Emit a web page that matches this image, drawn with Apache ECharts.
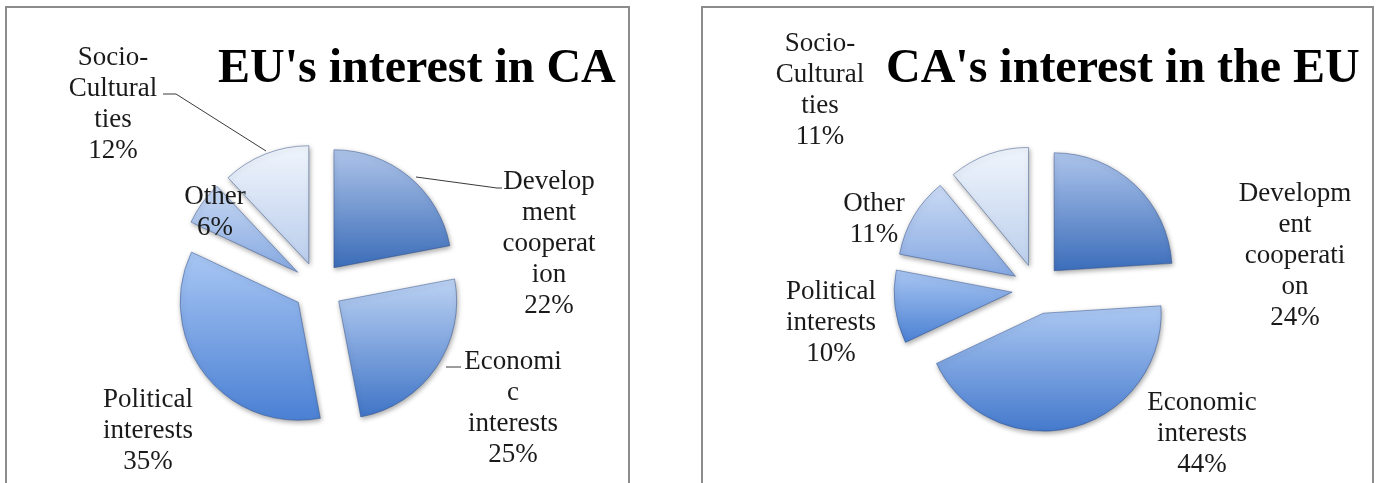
<!DOCTYPE html>
<html>
<head>
<meta charset="utf-8">
<script src="https://cdn.jsdelivr.net/npm/echarts@6/dist/echarts.min.js"></script>
<style>
html,body{margin:0;padding:0;background:#fff;}
#c{width:1379px;height:483px;}
</style>
</head>
<body>
<div id="c"></div>
<script>
// ---- data ----
const categories = ['Development cooperation', 'Economic interests', 'Political interests', 'Other', 'Socio-Cultural ties'];
const euInterestInCA = [22, 25, 35, 6, 12];
const caInterestInEU = [24, 44, 10, 11, 11];
const chartTitles = ["EU's interest in CA", "CA's interest in the EU"];
// label text as wrapped in the original
const wrapLeft = ['Develop\nment\ncooperat\nion', 'Economi\nc\ninterests', 'Political\ninterests', 'Other', 'Socio-\nCultural\nties'];
const wrapRight = ['Developm\nent\ncooperati\non', 'Economic\ninterests', 'Political\ninterests', 'Other', 'Socio-\nCultural\nties'];

// ---- styles / layout ----
const gradLeft = [
  ['#aec4e9', '#3a6cb8'],
  ['#bcd2f3', '#3f74c6'],
  ['#a9c7f4', '#4a80d3'],
  ['#c7d8f2', '#86a9e2'],
  ['#f0f5fc', '#b9cdec']
];
const gradRight = [
  ['#adc4eb', '#3b6dba'],
  ['#adc9f3', '#4479cc'],
  ['#a9c6f2', '#4a80d3'],
  ['#cbdbf4', '#85a8e2'],
  ['#f0f5fc', '#bccfec']
];
const labelPosLeft = [[549, 244], [513, 408], [148, 431], [215, 212], [113, 104]];
const labelPosRight = [[1295, 256], [1202, 434], [831, 323], [874, 219], [820, 90]];
const leaderLeft = [
  [[416, 177], [497, 188], [502, 188]],
  [[446, 367], [455, 367], [461, 367]],
  null, null,
  [[266, 151], [176, 94], [163, 94]]
];
const PIE_R = 118;
const centerLeft = [318, 287];
const centerRight = [1037, 289];

function slicesSeries(values, grads, center) {
  return {
    type: 'pie',
    center: center,
    radius: PIE_R,
    startAngle: 90,
    clockwise: true,
    selectedMode: 'multiple',
    selectedOffset: 25,
    avoidLabelOverlap: false,
    animation: false,
    silent: true,
    emphasis: { disabled: true },
    label: { show: false },
    labelLine: { show: false },
    itemStyle: {
      borderColor: 'rgba(40,70,130,0.45)',
      borderWidth: 1,
      shadowBlur: 5,
      shadowColor: 'rgba(0,0,0,0.35)',
      shadowOffsetX: 1,
      shadowOffsetY: 2
    },
    data: values.map(function (v, i) {
      return {
        name: categories[i],
        value: v,
        selected: true,
        itemStyle: {
          color: new echarts.graphic.LinearGradient(0, 0, 0, 1, [
            { offset: 0, color: grads[i][0] },
            { offset: 1, color: grads[i][1] }
          ])
        }
      };
    })
  };
}

function labelSeries(values, wrap, pos, leaders, center) {
  return {
    type: 'pie',
    center: center,
    radius: PIE_R,
    startAngle: 90,
    clockwise: true,
    selectedMode: false,
    avoidLabelOverlap: false,
    animation: false,
    silent: true,
    z: 5,
    emphasis: { disabled: true },
    itemStyle: { color: 'rgba(0,0,0,0)', borderWidth: 0 },
    label: {
      show: true,
      position: 'outside',
      formatter: function (p) { return wrap[p.dataIndex] + '\n' + p.value + '%'; },
      fontFamily: 'Liberation Serif',
      fontSize: 27,
      lineHeight: 31,
      color: '#1a1a1a',
      align: 'center'
    },
    labelLine: {
      show: true,
      lineStyle: { color: '#3a3a3a', width: 1 }
    },
    labelLayout: function (p) {
      const i = p.dataIndex;
      const out = { x: pos[i][0], y: pos[i][1], align: 'center', verticalAlign: 'middle' };
      if (leaders && leaders[i]) out.labelLinePoints = leaders[i];
      return out;
    },
    data: values.map(function (v, i) {
      return {
        name: categories[i],
        value: v,
        labelLine: { show: !!(leaders && leaders[i]) }
      };
    })
  };
}

const chart = echarts.init(document.getElementById('c'), null, { renderer: 'canvas' });
chart.setOption({
  backgroundColor: '#ffffff',
  title: [
    {
      text: chartTitles[0], left: 218, top: 46, padding: 0,
      textStyle: { fontFamily: 'Liberation Serif', fontWeight: 'bold', fontSize: 48, color: '#000' }
    },
    {
      text: chartTitles[1], left: 886, top: 46, padding: 0,
      textStyle: { fontFamily: 'Liberation Serif', fontWeight: 'bold', fontSize: 48, color: '#000' }
    }
  ],
  graphic: [
    { type: 'rect', shape: { x: 6, y: 7, width: 623, height: 500 }, style: { fill: 'none', stroke: '#8c8c8c', lineWidth: 2 }, z: -1 },
    { type: 'rect', shape: { x: 702, y: 7, width: 671, height: 500 }, style: { fill: 'none', stroke: '#8c8c8c', lineWidth: 2 }, z: -1 }
  ],
  series: [
    slicesSeries(euInterestInCA, gradLeft, centerLeft),
    labelSeries(euInterestInCA, wrapLeft, labelPosLeft, leaderLeft, centerLeft),
    slicesSeries(caInterestInEU, gradRight, centerRight),
    labelSeries(caInterestInEU, wrapRight, labelPosRight, null, centerRight)
  ]
});
</script>
</body>
</html>
